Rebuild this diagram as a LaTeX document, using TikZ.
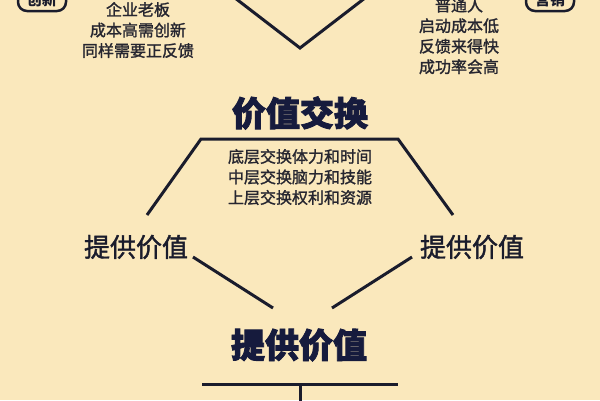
\documentclass[tikz,border=0pt]{standalone}
\usepackage{fontspec}
\setmainfont{Noto Sans CJK SC}
\newfontfamily\medfont[FakeBold=1.5]{Noto Sans CJK SC}
\newfontfamily\heavyfont[BoldFeatures={FakeBold=2.5}]{Noto Sans CJK SC}
\definecolor{bg}{HTML}{FAE8BC}
\definecolor{ink}{HTML}{1A1C2C}
\definecolor{navy}{HTML}{161B3D}
\definecolor{txt}{HTML}{262630}
\begin{document}
\begin{tikzpicture}[x=1pt,y=-1pt,
  small/.style={align=center,text=txt,font=\medfont\fontsize{16}{20.5}\selectfont,inner sep=0pt},
  bigtitle/.style={text=navy,font=\heavyfont\bfseries\fontsize{34}{40}\selectfont,inner sep=0pt},
  midtitle/.style={text=ink,font=\medfont\fontsize{26}{30}\selectfont,inner sep=0pt},
  tag/.style={draw=ink,line width=2.5pt,rounded corners=9pt,minimum width=48pt,minimum height=22pt,inner sep=0pt,text=ink,font=\fontsize{15}{18}\selectfont\bfseries},
  conn/.style={draw=ink,line width=3pt}]
\useasboundingbox (0,0) rectangle (600,400);
\fill[bg] (0,0) rectangle (600,400);
% corner tags
\node[tag] (tagL) at (42,0) {创新};
\node[tag] (tagR) at (550,0) {营销};
% top V
\coordinate (vL) at (235,-2);
\coordinate (vB) at (300,48);
\coordinate (vR) at (365,-2);
\draw[conn,line join=miter] (vL) -- (vB) -- (vR);
% top texts
\node[small] (leftTxt) at (138,30) {企业老板\\成本高需创新\\同样需要正反馈};
\node[small] (rightTxt) at (459,36) {普通人\\启动成本低\\反馈来得快\\成功率会高};
% title
\node[bigtitle] (exch) at (300,113) {价值交换};
% trapezoid
\coordinate (tA) at (147,215);
\coordinate (tB) at (201,139);
\coordinate (tC) at (398,139);
\coordinate (tD) at (453,215);
\draw[conn,line join=miter] (tA) -- (tB) -- (tC) -- (tD);
\node[small] (levels) at (300,177) {底层交换体力和时间\\中层交换脑力和技能\\上层交换权利和资源};
% side values
\node[midtitle] (pvL) at (136,247) {提供价值};
\node[midtitle] (pvR) at (472,247) {提供价值};
\node[bigtitle] (pvB) at (299,345) {提供价值};
\coordinate (lL1) at (193,257);
\coordinate (lL2) at (273,308);
\coordinate (lR1) at (412,257);
\coordinate (lR2) at (332,308);
\draw[conn] (lL1) -- (lL2);
\draw[conn] (lR1) -- (lR2);
% bottom T
\coordinate (bL) at (202,384);
\coordinate (bR) at (398,384);
\coordinate (bM) at (300,384);
\coordinate (bD) at (300,402);
\draw[conn] (bL) -- (bR);
\draw[conn] (bM) -- (bD);
\end{tikzpicture}
\end{document}
